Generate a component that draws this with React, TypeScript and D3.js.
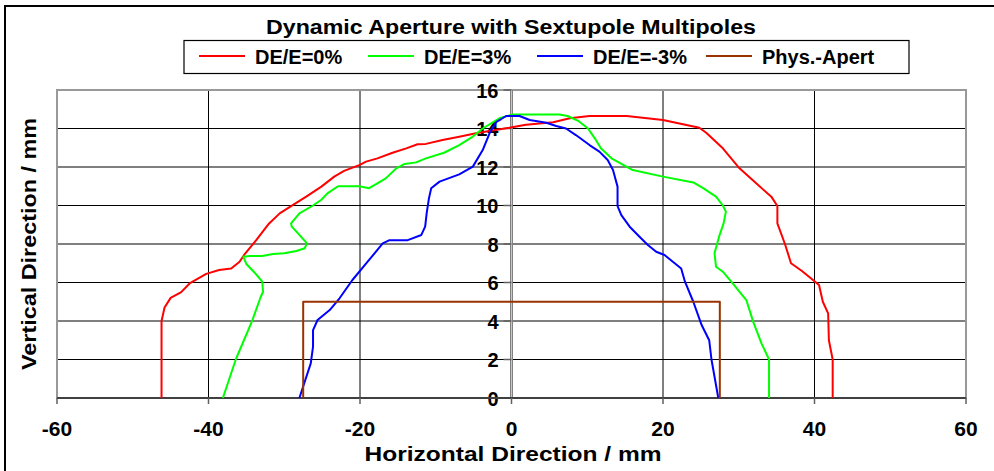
import * as d3 from 'd3';

// DE/E = 0%
const red0X = [-46.2, -46.2, -45.8, -45.0, -43.6, -42.5, -40.3, -38.6, -37.0, -35.9, -35.3, -33.7, -32.0, -30.6, -29.1, -27.1, -25.1, -23.4, -22.1, -20.1, -19.2, -17.7, -15.7, -13.9, -12.4, -11.3, -9.1, -6.9, -4.7, -2.5, -0.3, 1.9, 3.0, 5.5, 7.7, 10.3, 15.2, 20.0, 24.8, 25.7, 27.9, 30.1, 32.3, 34.3, 35.1, 35.1, 36.1, 36.9, 38.3, 39.8, 40.6, 41.1, 41.8, 41.9, 42.4, 42.4];
const red0Y = [0, 4.0, 4.7, 5.2, 5.5, 5.95, 6.45, 6.65, 6.73, 7.08, 7.43, 8.2, 9.07, 9.59, 9.97, 10.46, 10.98, 11.5, 11.8, 12.1, 12.28, 12.45, 12.74, 12.97, 13.18, 13.2, 13.4, 13.57, 13.75, 13.9, 14.04, 14.2, 14.23, 14.32, 14.53, 14.65, 14.65, 14.44, 14.04, 13.78, 12.97, 11.93, 11.15, 10.46, 9.97, 9.07, 8.0, 7.0, 6.61, 6.13, 5.87, 5.0, 4.4, 3.0, 2.0, 0];

// DE/E = 3%
const green3X = [-38.1, -36.4, -34.2, -33.1, -32.8, -32.9, -33.9, -35.0, -35.4, -34.6, -32.9, -31.5, -30.0, -28.4, -27.3, -27.0, -28.0, -29.0, -29.1, -28.0, -26.2, -25.1, -24.3, -22.9, -20.1, -18.8, -18.1, -16.6, -15.2, -14.1, -12.6, -11.3, -8.9, -6.9, -5.1, -3.8, -1.6, 0.2, 6.3, 7.4, 8.8, 10.1, 11.0, 11.8, 13.2, 16.0, 20.0, 24.0, 25.3, 27.0, 27.9, 28.3, 28.0, 27.4, 26.8, 27.0, 27.9, 29.2, 31.0, 31.9, 33.0, 34.0, 34.0];
const green3Y = [0, 2.0, 4.05, 5.26, 5.52, 6.04, 6.51, 6.96, 7.34, 7.38, 7.38, 7.48, 7.52, 7.64, 7.78, 8.03, 8.47, 8.9, 9.07, 9.59, 10.0, 10.3, 10.63, 11.0, 11.0, 10.9, 11.06, 11.41, 11.93, 12.16, 12.24, 12.45, 12.74, 13.14, 13.58, 14.0, 14.53, 14.73, 14.73, 14.65, 14.4, 14.0, 13.49, 12.97, 12.45, 11.84, 11.5, 11.2, 10.9, 10.46, 10.0, 9.68, 9.07, 8.38, 7.52, 6.82, 6.56, 5.95, 5.09, 3.97, 2.84, 2.0, 0];

// DE/E = -3%
const blueM3X = [-28.0, -26.5, -26.2, -26.2, -25.6, -24.0, -22.7, -21.0, -18.8, -17.0, -16.1, -13.7, -11.9, -11.4, -11.2, -10.9, -10.6, -9.5, -6.9, -5.1, -3.8, -2.9, -2.0, -1.4, -0.7, 1.06, 2.4, 4.6, 5.9, 7.2, 8.5, 10.3, 11.6, 12.7, 13.4, 14.0, 14.0, 14.5, 15.6, 16.9, 18.0, 19.1, 20.2, 21.3, 22.4, 22.9, 24.0, 25.1, 26.1, 26.4, 27.3];
const blueM3Y = [0, 1.8, 2.67, 3.53, 4.05, 4.57, 5.18, 6.13, 7.17, 8.03, 8.2, 8.2, 8.47, 8.9, 9.59, 10.37, 10.9, 11.24, 11.62, 12.02, 12.88, 13.75, 14.35, 14.48, 14.65, 14.65, 14.44, 14.3, 14.13, 14.0, 13.66, 13.14, 12.8, 12.36, 11.84, 10.98, 9.97, 9.5, 8.9, 8.38, 7.95, 7.6, 7.43, 7.08, 6.73, 6.04, 5.0, 3.79, 3.0, 2.0, 0];

// physical aperture
const physX = [-27.5, -27.5, 27.5, 27.5];
const physY = [0, 5, 5, 0];

const xTicks = [-60, -40, -20, 0, 20, 40, 60];
const yTicks = [0, 2, 4, 6, 8, 10, 12, 14, 16];

const series = [
  { name: 'DE/E=0%', color: '#ff0000', xs: red0X, ys: red0Y },
  { name: 'DE/E=3%', color: '#00ff00', xs: green3X, ys: green3Y },
  { name: 'DE/E=-3%', color: '#0000ff', xs: blueM3X, ys: blueM3Y },
  { name: 'Phys.-Apert', color: '#993300', xs: physX, ys: physY },
];

const W = 994;
const H = 471;
const left = 57, right = 966, top = 90, bottom = 398;
const font = '"Liberation Sans", Arial, sans-serif';

export default function App() {
  const x = d3.scaleLinear().domain([-60, 60]).range([left, right]);
  const y = d3.scaleLinear().domain([0, 16]).range([bottom, top]);
  const line = d3.line<[number, number]>().x(d => x(d[0])).y(d => y(d[1]));

  const legendX = [199, 368, 537, 706];

  return (
    <svg width={W} height={H} style={{ position: 'absolute', left: 0, top: 0, background: '#fff' }}>
      <rect x={5} y={6} width={W + 10} height={H + 10} fill="#fff" stroke="#000" strokeWidth={2} />
      <text x={511} y={34} textAnchor="middle" fontFamily={font} fontWeight="bold" fontSize={20} textLength={490} lengthAdjust="spacingAndGlyphs">
        Dynamic Aperture with Sextupole Multipoles
      </text>

      {/* legend */}
      <rect x={184} y={40.5} width={725} height={33} fill="#fff" stroke="#000" strokeWidth={1.2} />
      {series.map((s, i) => (
        <g key={s.name}>
          <line x1={legendX[i]} x2={legendX[i] + 46} y1={56} y2={56} stroke={s.color} strokeWidth={2} />
          <text x={legendX[i] + 56} y={63.5} fontFamily={font} fontWeight="bold" fontSize={20}>{s.name}</text>
        </g>
      ))}

      {/* grid */}
      {yTicks.filter(t => t > 0 && t < 16).map(t => (
        <line key={'h' + t} x1={left} x2={right} y1={y(t)} y2={y(t)} stroke="#000" strokeWidth={1} />
      ))}
      {xTicks.filter(t => t !== 0 && Math.abs(t) < 60).map(t => (
        <line key={'v' + t} x1={x(t)} x2={x(t)} y1={top} y2={bottom} stroke="#000" strokeWidth={1} />
      ))}
      <rect x={left} y={top} width={right - left} height={bottom - top} fill="none" stroke="#999" strokeWidth={2} />

      {/* y axis at x = 0 */}
      <line x1={x(0)} x2={x(0)} y1={top} y2={bottom} stroke="#808080" strokeWidth={3} />
      <line x1={x(0)} x2={x(0)} y1={top} y2={bottom} stroke="#c8c8c8" strokeWidth={1} />
      {yTicks.map(t => (
        <g key={'yt' + t}>
          <line x1={x(0) - 8} x2={x(0)} y1={y(t)} y2={y(t)} stroke="#606060" strokeWidth={1.5} />
          <text x={x(0) - 13} y={y(t) + 7.5} textAnchor="end" fontFamily={font} fontWeight="bold" fontSize={20}>{t}</text>
        </g>
      ))}

      {/* x axis */}
      <line x1={left} x2={right} y1={bottom} y2={bottom} stroke="#404040" strokeWidth={2} />
      {xTicks.map(t => (
        <g key={'xt' + t}>
          <line x1={x(t)} x2={x(t)} y1={bottom} y2={bottom + 6} stroke="#606060" strokeWidth={1.5} />
          <text x={x(t)} y={436} textAnchor="middle" fontFamily={font} fontWeight="bold" fontSize={21}>{t}</text>
        </g>
      ))}

      {/* series */}
      {series.map(s => (
        <path key={'p' + s.name} d={line(s.xs.map((v, i) => [v, s.ys[i]] as [number, number])) || ''} fill="none" stroke={s.color} strokeWidth={2} strokeLinejoin="round" />
      ))}

      <text x={513} y={461} textAnchor="middle" fontFamily={font} fontWeight="bold" fontSize={20} textLength={297} lengthAdjust="spacingAndGlyphs">Horizontal Direction / mm</text>
      <text transform="translate(36,244) rotate(-90)" textAnchor="middle" fontFamily={font} fontWeight="bold" fontSize={20} textLength={252} lengthAdjust="spacingAndGlyphs">Vertical Direction / mm</text>
    </svg>
  );
}
